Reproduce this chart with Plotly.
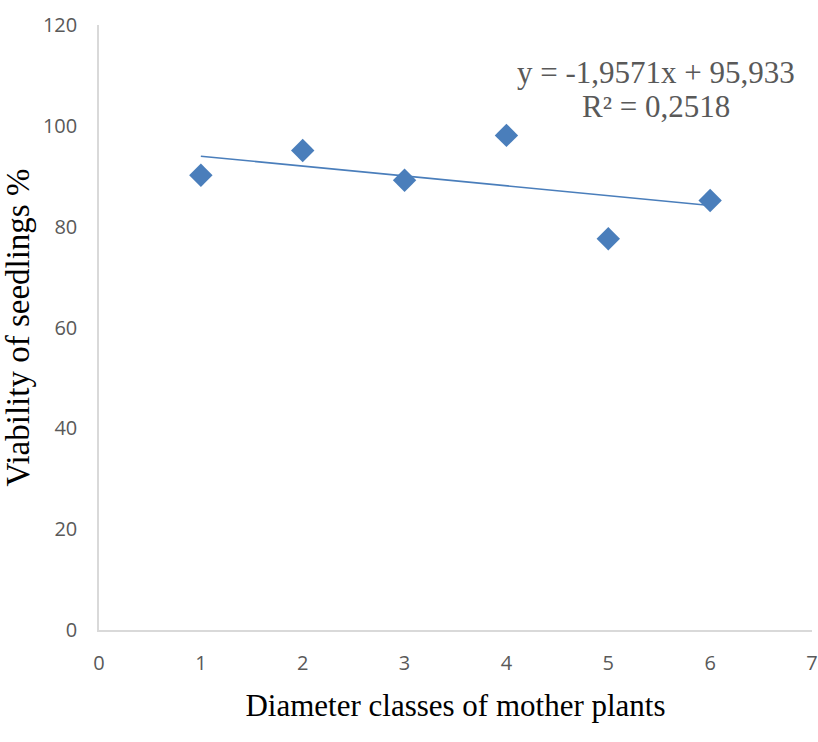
import plotly.graph_objects as go

diameter_class = [1, 2, 3, 4, 5, 6]
viability = [90.2, 95.1, 89.2, 98.1, 77.6, 85.2]
trend_slope = -1.9571
trend_intercept = 95.933
equation_text = "y = -1,9571x + 95,933"
r2_text = "R² = 0,2518"

blue = "#4A7EBB"
trend_x = [min(diameter_class), max(diameter_class)]
trend_y = [trend_slope * x + trend_intercept for x in trend_x]

fig = go.Figure()
fig.add_trace(go.Scatter(x=trend_x, y=trend_y, mode="lines",
                         line=dict(color=blue, width=1.6), hoverinfo="skip"))
fig.add_trace(go.Scatter(x=diameter_class, y=viability, mode="markers",
                         marker=dict(symbol="diamond", size=18, color=blue,
                                     line=dict(width=0))))

fig.add_annotation(x=5.47, y=110.6, xref="x", yref="y", text=equation_text,
                   showarrow=False, font=dict(family="Liberation Serif", size=31, color="#595959"))
fig.add_annotation(x=5.47, y=103.9, xref="x", yref="y", text=r2_text,
                   showarrow=False, font=dict(family="Liberation Serif", size=31, color="#595959"))

tickfont = dict(family="Open Sans", size=20, color="#595959")
fig.update_layout(
    width=818, height=742, showlegend=False,
    paper_bgcolor="white", plot_bgcolor="white",
    margin=dict(l=99, r=6, t=25, b=112, autoexpand=False),
    xaxis=dict(range=[0, 7], tickvals=[0, 1, 2, 3, 4, 5, 6, 7], showgrid=False,
               zeroline=False, showline=True, linecolor="#D9D9D9", linewidth=1.5,
               ticks="", tickfont=tickfont, ticklabelstandoff=14,
               ticklabeloverflow="allow",
               title=dict(text="Diameter classes of mother plants", standoff=20,
                          font=dict(family="Liberation Serif", size=31, color="black"))),
    yaxis=dict(range=[0, 120], tickvals=[0, 20, 40, 60, 80, 100, 120], showgrid=False,
               zeroline=False, showline=True, linecolor="#D9D9D9", linewidth=1.5,
               ticks="", tickfont=tickfont, ticklabelstandoff=16,
               ticklabeloverflow="allow",
               title=dict(text="Viability of seedlings %", standoff=4,
                          font=dict(family="Liberation Serif", size=33, color="black"))),
)
fig.write_html("out.html", config={"displayModeBar": False},
               post_script="document.body.style.margin='0';document.body.style.overflow='hidden';")
